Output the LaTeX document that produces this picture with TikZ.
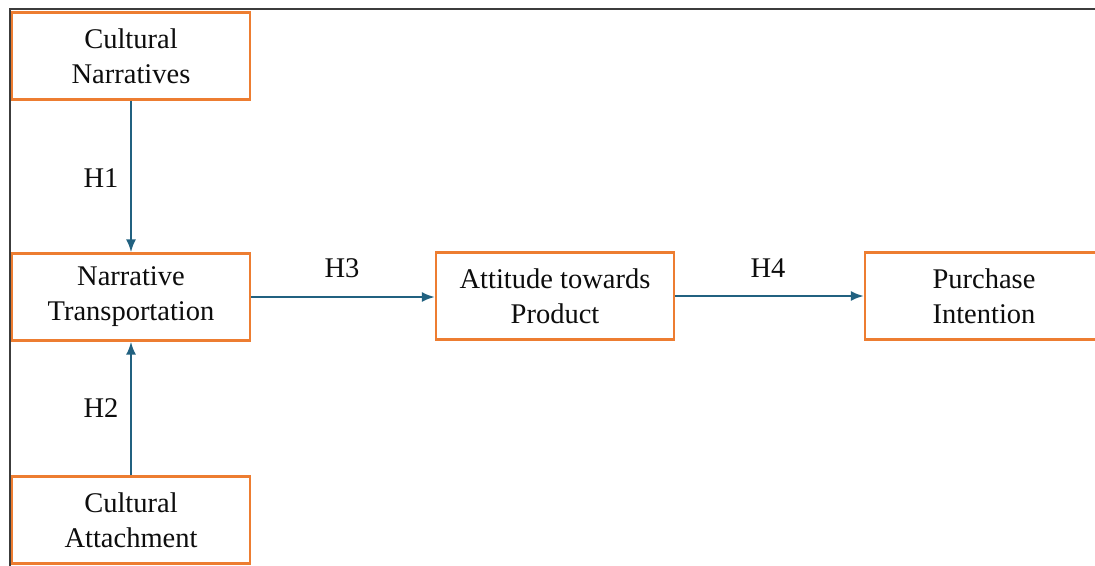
\documentclass[tikz,border=0pt]{standalone}
\usepackage{fontspec}
\setmainfont{Liberation Serif}
\usetikzlibrary{arrows.meta}
\definecolor{boxorange}{RGB}{237,125,49}
\definecolor{arrowteal}{RGB}{33,97,128}
\definecolor{framegray}{RGB}{60,60,60}
\tikzset{
  factor/.style={draw=boxorange, line width=2.4pt, fill=white, minimum width=238pt,
    minimum height=87pt, align=center, inner sep=0pt, font=\fontsize{28.5}{35}\selectfont, text=black!95},
  link/.style={draw=arrowteal, line width=2pt, -{Latex[length=13pt,width=10pt]}},
  hyp/.style={font=\fontsize{28.5}{34}\selectfont, text=black!95, inner sep=0pt}
}
\begin{document}
\begin{tikzpicture}[x=1pt,y=-1pt]
\useasboundingbox (0,0) rectangle (1095,565);
\clip (0,0) rectangle (1095,565);
\fill[white] (0,0) rectangle (1095,565);
\draw[framegray, line width=1.4pt] (10,567) -- (10,9) -- (1097,9);
\node[factor] (cn) at (131,56) {Cultural\\Narratives};
\node[factor] (nt) at (131,297) {Narrative\\Transportation};
\node[factor] (ca) at (131,520) {Cultural\\Attachment};
\node[factor] (at) at (555,296) {Attitude towards\\Product};
\node[factor] (pi) at (984,296) {Purchase\\Intention};
\draw[link] (cn.south) -- (nt.north);
\draw[link] (ca.north) -- (nt.south);
\draw[link] (nt.east) -- (nt.east -| at.west);
\draw[link] (at.east) -- (pi.west);
\node[hyp] (h1) at (101,178) {H1};
\node[hyp] (h2) at (101,408) {H2};
\node[hyp] (h3) at (342,268) {H3};
\node[hyp] (h4) at (768,268) {H4};
\end{tikzpicture}
\end{document}
